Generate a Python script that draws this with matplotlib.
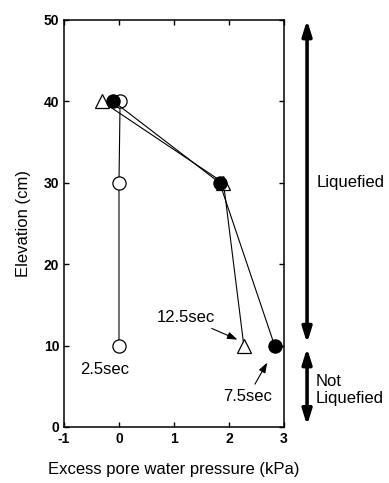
import matplotlib.pyplot as plt

plt.rcParams['font.family'] = ['Liberation Sans', 'DejaVu Sans']
plt.rcParams['axes.unicode_minus'] = False

# Elevation of the pore pressure gauges (cm)
elev = [10, 30, 40]

# Excess pore water pressure (kPa) at each gauge, by elapsed time
p_2_5 = [0.0, 0.0, 0.02]
p_7_5 = [2.83, 1.83, -0.1]
p_12_5 = [2.27, 1.9, -0.31]

x_ticks = [-1, 0, 1, 2, 3]
y_ticks = [0, 10, 20, 30, 40, 50]

fig = plt.figure(figsize=(3.89, 4.83), dpi=100)
ax = fig.add_axes([0.1645, 0.116, 0.5655, 0.8426])

line_kw = dict(color='black', lw=0.8, markersize=9.5, markeredgewidth=0.9)
ax.plot(p_2_5, elev, marker='o', markerfacecolor='white', markeredgecolor='black', **line_kw)
ax.plot(p_12_5, elev, marker='^', markerfacecolor='white', markeredgecolor='black', **line_kw)
ax.plot(p_7_5, elev, marker='o', markerfacecolor='black', markeredgecolor='black', **line_kw)

ax.set_xlim(-1, 3)
ax.set_ylim(0, 50)
ax.set_xticks(x_ticks)
ax.set_yticks(y_ticks)
ax.tick_params(direction='in', top=True, right=True, length=3.5, width=1,
               labelsize=10)
for lab in ax.get_xticklabels() + ax.get_yticklabels():
    lab.set_fontweight('bold')
for sp in ax.spines.values():
    sp.set_linewidth(1.1)

ax.set_xlabel('Excess pore water pressure (kPa)', fontsize=12, labelpad=12)
ax.set_ylabel('Elevation (cm)', fontsize=12, labelpad=9)

# time labels
ax.text(-0.27, 7.0, '2.5sec', fontsize=12, ha='center', va='center')
arrow_kw = dict(arrowstyle='-|>,head_length=0.5,head_width=0.18', color='black', lw=0.8)
ax.annotate('12.5sec', xy=(p_12_5[0] - 0.07, elev[0] + 0.6), xytext=(1.21, 13.5),
            fontsize=12, ha='center', va='center', arrowprops=arrow_kw)
ax.annotate('7.5sec', xy=(p_7_5[0] - 0.11, elev[0] - 1.8), xytext=(2.34, 3.7),
            fontsize=12, ha='center', va='center', arrowprops=arrow_kw)

# liquefied / not liquefied zones to the right of the plot
ytr = ax.get_yaxis_transform()
zone_kw = dict(arrowstyle='<|-|>,head_length=0.9,head_width=0.28', color='black',
               lw=2.6, shrinkA=0, shrinkB=0)
ax.annotate('', xy=(1.105, 50), xytext=(1.105, 10.3), xycoords=ytr, textcoords=ytr,
            arrowprops=zone_kw, annotation_clip=False)
ax.annotate('', xy=(1.105, 9.7), xytext=(1.105, 0.2), xycoords=ytr, textcoords=ytr,
            arrowprops=zone_kw, annotation_clip=False)
ax.text(1.15, 30, 'Liquefied', transform=ytr, fontsize=12, ha='left', va='center')
ax.text(1.145, 4.5, 'Not\nLiquefied', transform=ytr, fontsize=12, ha='left',
        va='center', linespacing=1.15)

fig.savefig('out.png', dpi=100)
